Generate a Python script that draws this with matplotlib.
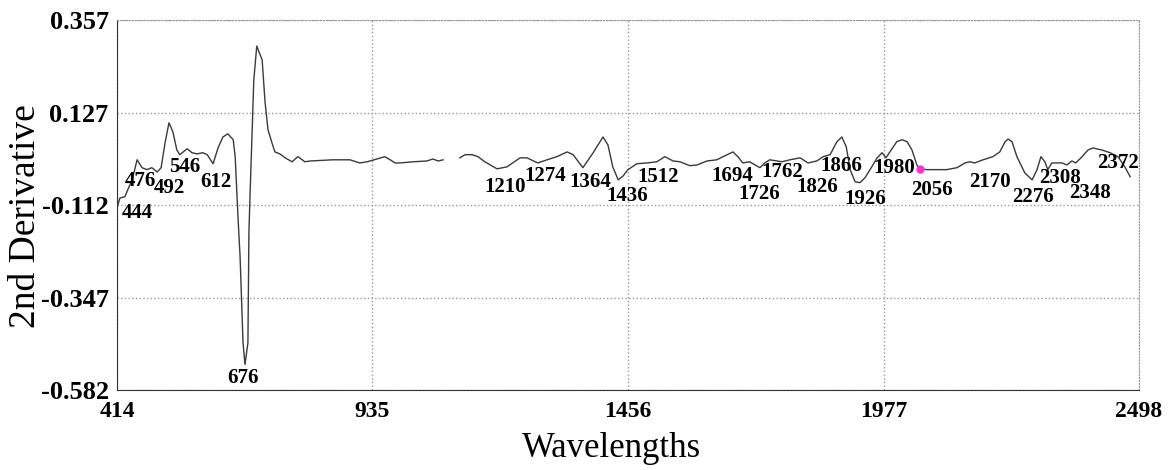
import numpy as np
import matplotlib
matplotlib.use("Agg")
import matplotlib.pyplot as plt

plt.rcParams['font.family'] = ['Liberation Serif', 'DejaVu Serif']

# spectrum, first segment (visible range)
wl_a = [414, 420, 430, 436, 445, 455, 465, 475, 485, 496, 504, 512, 520, 528, 536, 542,
        557, 567, 577, 589, 598, 610, 620, 630, 640, 651, 655, 661, 665, 671, 675, 681,
        683, 685, 693, 699, 710, 716, 722, 730, 736, 746, 757, 771, 783, 797, 808, 854,
        889, 909, 924, 944, 960, 971, 981, 991, 1018, 1046, 1058, 1069, 1079]
d2_a = [-0.120, -0.094, -0.091, -0.073, -0.048, 0.003, -0.017, -0.022, -0.017, -0.028,
        -0.017, 0.046, 0.097, 0.074, 0.028, 0.016, 0.031, 0.021, 0.018, 0.021, 0.016,
        -0.007, 0.033, 0.061, 0.069, 0.054, 0.011, -0.149, -0.243, -0.462, -0.517, -0.462,
        -0.182, -0.099, 0.206, 0.292, 0.257, 0.148, 0.079, 0.046, 0.023, 0.018, 0.008,
        -0.002, 0.011, -0.002, 0.000, 0.003, 0.003, -0.005, -0.002, 0.005, 0.011, 0.003,
        -0.005, -0.005, -0.002, 0.000, 0.005, 0.000, 0.003]

# second segment (NIR range)
wl_b = [1113, 1124, 1138, 1150, 1164, 1189, 1209, 1236, 1250, 1272, 1291, 1311, 1332, 1344,
        1364, 1385, 1405, 1415, 1425, 1436, 1446, 1456, 1474, 1495, 1515, 1531, 1548, 1562,
        1582, 1597, 1617, 1637, 1650, 1670, 1680, 1690, 1704, 1715, 1725, 1735, 1745, 1770,
        1786, 1807, 1823, 1841, 1854, 1868, 1882, 1892, 1901, 1909, 1919, 1929, 1939, 1953,
        1964, 1974, 1982, 1990, 2004, 2015, 2025, 2035, 2045, 2051, 2066, 2106, 2127, 2143,
        2153, 2163, 2180, 2200, 2214, 2225, 2231, 2239, 2249, 2265, 2280, 2290, 2298, 2306,
        2312, 2320, 2331, 2341, 2351, 2361, 2369, 2382, 2394, 2404, 2422, 2439, 2455, 2469,
        2480]
d2_b = [0.008, 0.016, 0.016, 0.011, -0.002, -0.020, -0.015, 0.008, 0.008, -0.005, 0.003,
        0.011, 0.023, 0.016, -0.017, 0.021, 0.061, 0.041, -0.015, -0.048, -0.038, -0.022,
        -0.007, -0.005, -0.002, 0.011, 0.000, -0.002, -0.012, -0.010, 0.000, 0.003, 0.011,
        0.023, 0.011, -0.005, -0.002, -0.010, -0.017, -0.005, 0.003, -0.002, 0.003, 0.008,
        -0.005, 0.000, 0.011, 0.016, 0.049, 0.061, 0.036, -0.022, -0.053, -0.055, -0.043,
        -0.015, 0.008, 0.021, 0.008, 0.023, 0.049, 0.054, 0.049, 0.028, -0.010, -0.020,
        -0.022, -0.022, -0.017, -0.005, -0.002, -0.005, 0.003, 0.011, 0.023, 0.049, 0.056,
        0.049, 0.011, -0.030, -0.048, -0.022, 0.011, -0.002, -0.022, -0.005, -0.005, -0.005,
        -0.010, 0.000, -0.005, 0.011, 0.028, 0.033, 0.028, 0.021, 0.011, -0.015, -0.040]

# highlighted point
mark_wl = 2051
mark_val = -0.020

# peak annotations: text, x, y
peak_text = ['444', '476', '492', '546', '612', '676', '1210', '1274', '1364', '1436',
             '1512', '1694', '1726', '1762', '1826', '1866', '1926', '1980', '2056',
             '2170', '2276', '2308', '2348', '2372']
peak_x = [455, 461, 520, 553, 616, 671, 1205, 1287, 1378, 1454, 1517, 1668, 1723, 1770,
          1841, 1890, 1939, 1998, 2076, 2194, 2282, 2336, 2399, 2455]
peak_y = [-0.132, -0.050, -0.068, -0.015, -0.053, -0.551, -0.066, -0.038, -0.053, -0.088,
          -0.040, -0.038, -0.085, -0.028, -0.065, -0.013, -0.096, -0.018, -0.075, -0.054,
          -0.091, -0.043, -0.081, -0.005]

x_ticks = [414, 935, 1456, 1977, 2498]
y_labels = ['-0.582', '-0.347', '-0.112', '0.127', '0.357']

fig = plt.figure(figsize=(11.71, 4.70), dpi=100)
ax = fig.add_axes([0.0999, 0.1702, 0.8728, 0.7862])

ax.plot(wl_a, d2_a, color='#3a3a3a', lw=1.0)
ax.plot(wl_b, d2_b, color='#3a3a3a', lw=1.0)
ax.plot(mark_wl, mark_val, 'o', color='#ff33cc', ms=5, zorder=5)

for t, x, y in zip(peak_text, peak_x, peak_y):
    ax.text(x, y, t, ha='center', va='center', fontsize=15, fontweight='bold')

ax.set_xlim(414, 2498)
ax.set_ylim(-0.582, 0.357)
ax.set_xticks(x_ticks)
ax.set_yticks(np.linspace(-0.582, 0.357, 5))
ax.set_yticklabels(y_labels)
ax.tick_params(length=0, pad=8)
ax.tick_params(axis='x', labelsize=17)
ax.tick_params(axis='y', labelsize=19, pad=6)
for lab in ax.get_xticklabels() + ax.get_yticklabels():
    lab.set_fontweight('bold')

ax.grid(True, linestyle=':', color='#999999', lw=1)
for s in ['top', 'right']:
    ax.spines[s].set_linestyle(':')
    ax.spines[s].set_color('#999999')
for s in ['left', 'bottom']:
    ax.spines[s].set_color('#333333')

ax.set_xlabel('Wavelengths', fontsize=25)
ax.set_ylabel('2nd Derivative', fontsize=27)
ax.xaxis.set_label_coords(0.484, -0.113)
ax.yaxis.set_label_coords(-0.072, 0.47)

fig.savefig('out.png', dpi=100)
